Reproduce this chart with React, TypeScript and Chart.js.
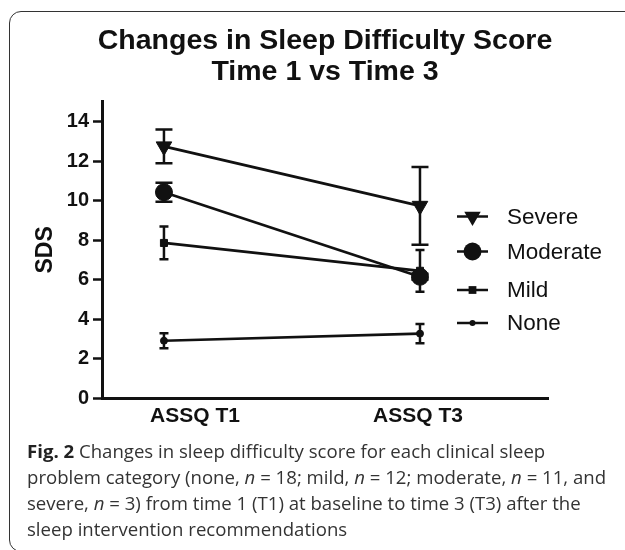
import React, { useEffect, useRef } from "react";
import { Chart, registerables } from "chart.js";

Chart.register(...registerables);

// ---------- data ----------
const categories = ["ASSQ T1", "ASSQ T3"];
const seriesNames = ["Severe", "Moderate", "Mild", "None"];
const severeMean = [12.74, 9.73];
const severeErr = [0.86, 1.97];
const moderateMean = [10.42, 6.14];
const moderateErr = [0.48, 0.15];
const mildMean = [7.85, 6.44];
const mildErr = [0.83, 1.06];
const noneMean = [2.9, 3.26];
const noneErr = [0.38, 0.49];
const yTicks = [0, 2, 4, 6, 8, 10, 12, 14];
const titleLines = ["Changes in Sleep Difficulty Score", "Time 1 vs Time 3"];
const yTitle = "SDS";

const allMeans = [severeMean, moderateMean, mildMean, noneMean];
const allErrs = [severeErr, moderateErr, mildErr, noneErr];

// ---------- styles ----------
const INK = "#111";
const FONT = '"Liberation Sans", Arial, Helvetica, sans-serif';
const pointStyles = ["triangle", "circle", "rect", "circle"];
const pointRadii = [9, 8.5, 5, 3.5];
const pointRotations = [180, 0, 0, 0];
const capHalf = [8.5, 8.5, 4.5, 4.5];
const legendRadii = [9.5, 9, 5.5, 3];
const legendY = [216.5, 251.5, 290, 323];

function drawMarker(ctx: CanvasRenderingContext2D, style: string, r: number, rot: number, x: number, y: number) {
  ctx.beginPath();
  if (style === "triangle") {
    let rad = (rot * Math.PI) / 180;
    for (let k = 0; k < 3; k++) {
      const px = x + Math.sin(rad) * r;
      const py = y - Math.cos(rad) * r;
      if (k === 0) ctx.moveTo(px, py);
      else ctx.lineTo(px, py);
      rad += (2 * Math.PI) / 3;
    }
    ctx.closePath();
  } else if (style === "rect") {
    const s = r * Math.SQRT1_2;
    ctx.rect(x - s, y - s, 2 * s, 2 * s);
  } else {
    ctx.arc(x, y, r, 0, Math.PI * 2);
  }
  ctx.fill();
}

const errorBarPlugin = {
  id: "errorBars",
  beforeDatasetsDraw(chart: any) {
    const ctx: CanvasRenderingContext2D = chart.ctx;
    const xs = chart.scales.xd;
    const ys = chart.scales.y;
    ctx.save();
    ctx.strokeStyle = INK;
    ctx.lineWidth = 2.5;
    allMeans.forEach((means, si) => {
      means.forEach((m, i) => {
        const e = allErrs[si][i];
        const px = xs.getPixelForValue(i);
        const top = ys.getPixelForValue(m + e);
        const bot = ys.getPixelForValue(m - e);
        const c = capHalf[si];
        ctx.beginPath();
        ctx.moveTo(px, top);
        ctx.lineTo(px, bot);
        ctx.moveTo(px - c, top);
        ctx.lineTo(px + c, top);
        ctx.moveTo(px - c, bot);
        ctx.lineTo(px + c, bot);
        ctx.stroke();
      });
    });
    ctx.restore();
  },
};

const titleLegendPlugin = {
  id: "titleLegend",
  afterDraw(chart: any) {
    const ctx: CanvasRenderingContext2D = chart.ctx;
    ctx.save();
    // title
    ctx.fillStyle = INK;
    ctx.textAlign = "center";
    ctx.textBaseline = "alphabetic";
    ctx.font = `bold 28.5px ${FONT}`;
    ctx.fillText(titleLines[0], 325, 49);
    ctx.fillText(titleLines[1], 325, 80);
    // legend
    seriesNames.forEach((name, i) => {
      const y = legendY[i];
      ctx.strokeStyle = INK;
      ctx.lineWidth = 2.5;
      ctx.beginPath();
      ctx.moveTo(457, y);
      ctx.lineTo(488, y);
      ctx.stroke();
      ctx.fillStyle = INK;
      drawMarker(ctx, pointStyles[i], legendRadii[i], pointRotations[i], 472.5, y);
      ctx.font = `22.5px ${FONT}`;
      ctx.textAlign = "left";
      ctx.textBaseline = "middle";
      ctx.fillText(name, 507, y + 1);
    });
    ctx.restore();
  },
};

function SleepChart() {
  const ref = useRef<HTMLCanvasElement | null>(null);
  useEffect(() => {
    if (!ref.current) return;
    const datasets = allMeans.map((means, si) => ({
      label: seriesNames[si],
      data: means.map((y, i) => ({ x: i, y })),
      xAxisID: "xd",
      yAxisID: "y",
      borderColor: INK,
      backgroundColor: INK,
      borderWidth: 2.7,
      pointStyle: pointStyles[si] as any,
      pointRadius: pointRadii[si],
      pointRotation: pointRotations[si],
      pointBackgroundColor: INK,
      pointBorderColor: INK,
      pointBorderWidth: 1,
      tension: 0,
      fill: false,
    }));
    const chart = new Chart(ref.current, {
      type: "line",
      data: { datasets },
      plugins: [errorBarPlugin, titleLegendPlugin],
      options: {
        animation: false,
        responsive: false,
        layout: { padding: { left: 0, top: 101.75, right: 77, bottom: 2 } },
        plugins: {
          legend: { display: false },
          title: { display: false },
          tooltip: { enabled: false },
        },
        scales: {
          x: {
            type: "linear",
            position: "bottom",
            min: -0.417,
            max: 1.583,
            afterBuildTicks: (s: any) => {
              s.ticks = categories.map((_, i) => ({ value: i }));
            },
            afterFit: (s: any) => {
              s.height = 40;
            },
            ticks: {
              callback: (v: any) => categories[v as number] ?? "",
              font: { family: FONT, weight: "bold", size: 21 },
              color: INK,
              padding: 6,
              autoSkip: false,
              maxRotation: 0,
            },
            grid: { display: false, drawTicks: false },
            border: { display: true, color: INK, width: 3 },
          },
          xd: {
            type: "linear",
            display: false,
            min: -0.242,
            max: 1.5,
          },
          y: {
            type: "linear",
            position: "left",
            min: 0,
            max: 15,
            afterBuildTicks: (s: any) => {
              s.ticks = yTicks.map((v) => ({ value: v }));
            },
            afterFit: (s: any) => {
              s.width = 102;
            },
            ticks: {
              font: { family: FONT, weight: "bold", size: 20 },
              color: INK,
              padding: 4,
            },
            grid: {
              display: true,
              drawOnChartArea: false,
              drawTicks: true,
              tickLength: 9,
              tickColor: INK,
              tickWidth: 2.5,
              color: INK,
            },
            border: { display: true, color: INK, width: 3 },
            title: {
              display: true,
              text: yTitle,
              font: { family: FONT, weight: "bold", size: 23 },
              color: INK,
              padding: { top: 32, bottom: 0 },
            },
          },
        },
      } as any,
    });
    return () => chart.destroy();
  }, []);
  return <canvas ref={ref} width={625} height={440} style={{ display: "block" }} />;
}

export default function App() {
  return (
    <div
      style={{
        position: "fixed",
        left: 0,
        top: 0,
        width: 625,
        height: 550,
        overflow: "hidden",
        background: "#fff",
      }}
    >
      <div
        style={{
          position: "absolute",
          left: 9,
          top: 11,
          width: 700,
          height: 541,
          boxSizing: "border-box",
          border: "1.5px solid #333",
          borderRadius: 12,
        }}
      />
      <div style={{ position: "absolute", left: 0, top: 0 }}>
        <SleepChart />
      </div>
      <div
        style={{
          position: "absolute",
          left: 27,
          top: 438,
          fontFamily: '"Open Sans", sans-serif',
          fontSize: 18.6,
          lineHeight: "26px",
          color: "#333",
          whiteSpace: "nowrap",
        }}
      >
        <b style={{ color: "#222" }}>Fig. 2</b> Changes in sleep difficulty score for each clinical sleep
        <br />
        problem category (none, <i>n</i> = 18; mild, <i>n</i> = 12; moderate, <i>n</i> = 11, and
        <br />
        severe, <i>n</i> = 3) from time 1 (T1) at baseline to time 3 (T3) after the
        <br />
        sleep intervention recommendations
      </div>
    </div>
  );
}
